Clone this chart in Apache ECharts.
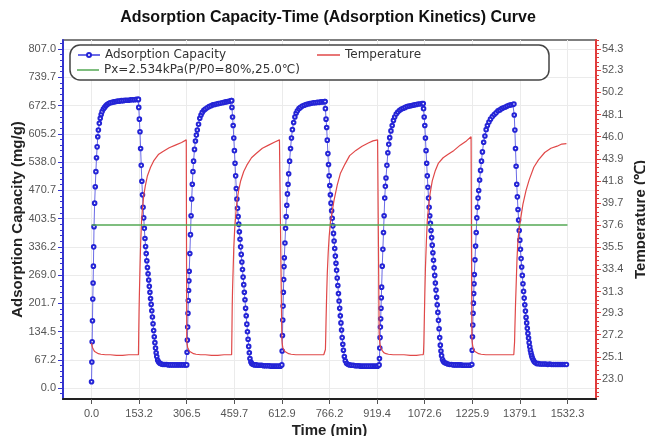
<!DOCTYPE html>
<html><head><meta charset="utf-8">
<script src="https://cdn.jsdelivr.net/npm/echarts@6/dist/echarts.min.js"></script>
<style>html,body{margin:0;padding:0;background:#fff}#c{width:645px;height:436px}</style>
</head><body><div id="c"></div>
<script>
// ---- tick labels ----
const timeTicks = [0.0, 153.2, 306.5, 459.7, 612.9, 766.2, 919.4, 1072.6, 1225.9, 1379.1, 1532.3];
const capTicks = [0.0, 67.2, 134.5, 201.7, 269.0, 336.2, 403.5, 470.7, 538.0, 605.2, 672.5, 739.7, 807.0];
const tempTicks = [23.0, 25.1, 27.2, 29.3, 31.3, 33.4, 35.5, 37.6, 39.7, 41.8, 43.9, 46.0, 48.1, 50.2, 52.3, 54.3];

// ---- cycle timing (min) ----
const cycleStarts = [0, 306.5, 612.7, 926, 1224.5];
const desorbStarts = [151, 451, 752, 1068, 1360];

// ---- adsorption capacity (mg/g) ----
const capAdsOffsets = [0,1,2,3,4,5,6,7,8,10,12,14,16,18,20,22,25,28,31,34,38,42,46,50,55,60,66,72,78,84,90,96,102,108,114,120,126,132,138,144,150];
const capDesOffsets = [0,1,3,5,7,9,11,13,15,17,19,21,23,25,27,29,31,33,35,37,39,41,43,45,47,49,51,53,55,57,59,62,65,69,74,79,85,91,97,103,109,115,121,127,133,139,145,151,157,163,169];
const capAds1 = [15,62,110,160,212,250,290,336,384,440,479,515,548,574,598,614,630,642,651,658,664,668,672,675,677,679,680,681,682,683,683,684,684,685,685,685,686,686,686,687,687];
const capAds2 = [55,85,114,145,178,208,232,255,278,320,365,410,450,485,515,540,568,588,602,614,628,642,650,656,661,664,667,670,672,674,675,676,677,678,679,680,681,682,683,684];
const capAds3 = [55,88,125,162,195,228,258,289,310,345,380,408,435,462,485,510,540,570,595,615,632,645,654,660,665,668,671,673,675,676,677,678,679,679,680,680,681,681,682];
const capAds4 = [55,70,95,120,145,165,190,215,240,290,330,370,410,452,480,500,530,560,580,596,612,625,637,645,652,657,661,664,666,668,670,671,672,673,674,675,676,676,677];
const capAds5 = [56,90,122,150,178,202,225,248,270,305,338,370,405,430,452,470,495,518,540,562,585,600,615,625,633,640,646,651,655,660,662,665,667,669,671,673,674,675];
const capDes1 = [687,668,640,610,570,530,492,460,430,405,380,356,337,320,303,287,272,257,242,228,213,199,184,169,153,137,122,108,95,84,75,66,62,59,57,56,56,56,55,55,55,55,55,55,55,55,55,55];
const capDes2 = [684,668,645,625,595,565,535,505,475,450,428,408,390,372,354,336,318,300,282,264,246,228,210,190,172,152,134,116,99,84,70,62,58,56,55,55,54,54,54,53,53,53,53,52,52,52,52,52,52];
const capDes3 = [682,665,640,620,590,558,532,505,482,460,440,422,404,386,368,350,332,314,297,280,262,244,225,207,190,172,155,138,120,104,90,75,65,59,56,55,54,54,53,53,53,52,52,52,52,52,52,52,52,52,52];
const capDes4 = [677,665,645,625,595,565,535,505,478,452,430,410,392,375,358,340,322,304,286,268,250,233,216,198,180,161,141,120,102,88,77,68,63,60,59,57,56,56,55,55,55,55,55,54,54,54,54,54];
const capDes5 = [676,650,614,570,528,485,455,425,400,375,352,330,308,288,268,248,230,214,198,183,168,155,142,130,119,108,98,90,83,77,72,67,63,60,58,58,57,57,57,57,56,57,56,56,56,56,56,56,56,56,56];

// ---- temperature (°C) ----
const tempAdsOffsets = [0,1,3,6,10,15,22,30,45,60,80,100,120,135];
const tempDesOffsets = [0,1,2,3,5,7,10,13,17,22,29,39,49,64,79,99,119,139,154,169];
const tempAds1 = [26.4,26.2,26.0,25.8,25.6,25.5,25.4,25.35,25.3,25.3,25.25,25.25,25.3,25.3];
const tempAds2 = [26.6,26.3,26.0,25.8,25.6,25.5,25.4,25.35,25.3,25.3,25.25,25.25,25.3,25.3];
const tempAds3 = [26.8,26.4,26.0,25.8,25.6,25.5,25.4,25.35,25.3,25.3,25.3,25.3,25.3,25.3];
const tempAds4 = [27.4,26.8,26.2,25.9,25.7,25.5,25.4,25.35,25.3,25.3,25.3,25.25,25.25,25.3];
const tempAds5 = [26.9,26.5,26.1,25.8,25.6,25.5,25.4,25.35,25.3,25.3,25.3,25.3,25.3,25.3];
const tempDes1 = [25.3,27.5,29.5,31.0,33.5,35.8,38.0,39.2,40.4,41.3,42.3,43.1,43.7,44.3,44.6,44.95,45.2,45.45,45.7];
const tempDes2 = [25.3,27.5,30.0,31.5,33.5,35.5,37.3,38.5,39.8,40.8,41.8,42.7,43.3,44.0,44.4,44.9,45.2,45.5,45.7];
const tempDes3 = [25.3,25.8,27.0,28.5,31.0,33.0,35.0,36.5,37.8,38.8,40.0,41.4,42.5,43.4,44.2,44.7,45.1,45.4,45.6,45.7];
const tempDes4 = [25.3,25.6,26.5,28.0,31.0,33.5,36.0,38.0,39.3,40.6,41.8,42.8,43.5,44.0,44.3,44.7,45.2,45.6,46.0];
const tempDes5 = [25.3,25.4,26.5,27.8,30.0,31.8,34.5,36.2,37.3,38.3,39.6,40.9,41.9,43.1,43.8,44.5,44.9,45.1,45.3,45.35];

// ---- reference pressure line ----
const pxTimes = [0, 1532.3];
const pxLevel = 388;

const capAds = [capAds1, capAds2, capAds3, capAds4, capAds5];
const capDes = [capDes1, capDes2, capDes3, capDes4, capDes5];
const tempAds = [tempAds1, tempAds2, tempAds3, tempAds4, tempAds5];
const tempDes = [tempDes1, tempDes2, tempDes3, tempDes4, tempDes5];

function buildSeries(adsOff, desOff, ads, des) {
  const out = [];
  for (let c = 0; c < cycleStarts.length; c++) {
    ads[c].forEach((v, j) => out.push([cycleStarts[c] + adsOff[j], v]));
    des[c].forEach((v, j) => out.push([desorbStarts[c] + desOff[j], v]));
  }
  return out;
}
const capData = buildSeries(capAdsOffsets, capDesOffsets, capAds, capDes);
const tempData = buildSeries(tempAdsOffsets, tempDesOffsets, tempAds, tempDes);
const pxData = pxTimes.map(t => [t, pxLevel]);

function minorTicks(ticks, n, lo, hi) {
  const out = [];
  const step = (ticks[ticks.length - 1] - ticks[0]) / (ticks.length - 1);
  for (let i = 0; i < ticks.length - 1; i++) {
    for (let k = 1; k < n; k++) out.push(ticks[i] + (ticks[i + 1] - ticks[i]) * k / n);
  }
  for (let k = 1; ticks[0] - step * k / n >= lo; k++) out.push(ticks[0] - step * k / n);
  for (let k = 1; ticks[ticks.length - 1] + step * k / n <= hi; k++) out.push(ticks[ticks.length - 1] + step * k / n);
  return out;
}

const X_MIN = -91.9, X_MAX = 1624.2;
const CAP_MIN = -26.2, CAP_MAX = 828.4;
const T_MIN = 21.1, T_MAX = 55.18;
const BLUE_AX = '#3434cf', RED_AX = '#e03c3c';
const labelFont = { color: '#555', fontSize: 11, fontFamily: 'Liberation Sans' };
const nameFont = { color: '#222', fontSize: 15, fontWeight: 'bold', fontFamily: 'Liberation Sans' };
const fmt = v => Number(v).toFixed(1);
const legendText = { fontFamily: 'DejaVu Sans', fontSize: 12, color: '#333', lineHeight: 14 };
const PX_NAME = 'Px=2.534kPa(P/P0=80%,25.0℃)';

const chart = echarts.init(document.getElementById('c'), null, { renderer: 'canvas' });
chart.setOption({
  animation: false,
  backgroundColor: '#fff',
  grid: { left: 63, right: 49, top: 40, bottom: 37, outerBoundsMode: 'none', containLabel: false,
          show: true, borderColor: '#555', borderWidth: 1.5, backgroundColor: 'transparent' },
  graphic: [
    { type: 'text', x: 328, y: 18, z: 5,
      style: { text: 'Adsorption Capacity-Time (Adsorption Kinetics) Curve', font: 'bold 16px "Liberation Sans"', fill: '#111', textAlign: 'center', textVerticalAlign: 'middle' } },
    { type: 'rect', z: 1, shape: { x: 70, y: 45, width: 479, height: 35, r: 10 },
      style: { fill: '#fff', stroke: '#444', lineWidth: 1.5 } }
  ],
  legend: [
    { data: ['Adsorption Capacity'], left: 77, top: 48, padding: 0, itemWidth: 22, itemHeight: 5, selectedMode: false, textStyle: legendText, z: 6 },
    { data: [{ name: 'Temperature', icon: 'rect' }], left: 317, top: 48, padding: 0, itemWidth: 23, itemHeight: 1.5, selectedMode: false, textStyle: legendText, z: 6 },
    { data: [{ name: PX_NAME, icon: 'rect' }], left: 77, top: 63, padding: 0, itemWidth: 22, itemHeight: 1.5, selectedMode: false, textStyle: legendText, z: 6 }
  ],
  xAxis: {
    type: 'value', min: X_MIN, max: X_MAX,
    name: 'Time (min)', nameLocation: 'middle', nameGap: 24, nameMoveOverlap: false, nameTextStyle: nameFont,
    axisLine: { show: true, onZero: false, lineStyle: { color: '#222', width: 2 } },
    axisTick: { show: true, customValues: timeTicks, length: 5, lineStyle: { color: '#555' } },
    axisLabel: { customValues: timeTicks, formatter: fmt, margin: 9, ...labelFont },
    splitLine: { show: true, lineStyle: { color: '#ebebeb', width: 1 } }
  },
  yAxis: [
    { type: 'value', position: 'left', min: CAP_MIN, max: CAP_MAX,
      name: 'Adsorption Capacity (mg/g)', nameLocation: 'middle', nameGap: 38, nameMoveOverlap: false, nameRotate: 90, nameTextStyle: nameFont,
      axisLine: { show: true, onZero: false, lineStyle: { color: BLUE_AX, width: 2 } },
      axisTick: { show: true, customValues: capTicks, length: 5, lineStyle: { color: BLUE_AX } },
      axisLabel: { customValues: capTicks, formatter: fmt, margin: 7, ...labelFont },
      splitLine: { show: true, lineStyle: { color: '#ebebeb', width: 1 } } },
    { type: 'value', position: 'right', min: T_MIN, max: T_MAX,
      name: 'Temperature (℃)', nameLocation: 'middle', nameGap: 37, nameMoveOverlap: false, nameRotate: 90, nameTextStyle: nameFont,
      axisLine: { show: true, onZero: false, lineStyle: { color: RED_AX, width: 2 } },
      axisTick: { show: true, customValues: tempTicks, length: 5, lineStyle: { color: RED_AX } },
      axisLabel: { customValues: tempTicks, formatter: fmt, margin: 6, ...labelFont },
      splitLine: { show: false } },
    { type: 'value', position: 'left', min: CAP_MIN, max: CAP_MAX,
      axisLine: { show: false, onZero: false },
      axisTick: { show: true, customValues: minorTicks(capTicks, 5, CAP_MIN, CAP_MAX), length: 3, lineStyle: { color: BLUE_AX } },
      axisLabel: { show: false }, splitLine: { show: false } },
    { type: 'value', position: 'right', min: T_MIN, max: T_MAX,
      axisLine: { show: false, onZero: false },
      axisTick: { show: true, customValues: minorTicks(tempTicks, 5, T_MIN, T_MAX), length: 3, lineStyle: { color: RED_AX } },
      axisLabel: { show: false }, splitLine: { show: false } }
  ],
  series: [
    { name: 'Adsorption Capacity', type: 'line', yAxisIndex: 0, data: capData,
      symbol: 'emptyCircle', symbolSize: 3.6, showAllSymbol: true,
      lineStyle: { color: '#6a6ae6', width: 1 },
      itemStyle: { color: '#2424d6', borderColor: '#2424d6', borderWidth: 1 }, z: 3 },
    { name: 'Temperature', type: 'line', yAxisIndex: 1, data: tempData,
      symbol: 'none', lineStyle: { color: '#e04848', width: 1.2 }, itemStyle: { color: '#e04848' }, z: 4 },
    { name: PX_NAME, type: 'line', yAxisIndex: 0, data: pxData,
      symbol: 'none', lineStyle: { color: '#55a855', width: 1.6 }, itemStyle: { color: '#55a855' }, z: 5 }
  ]
});
</script></body></html>
